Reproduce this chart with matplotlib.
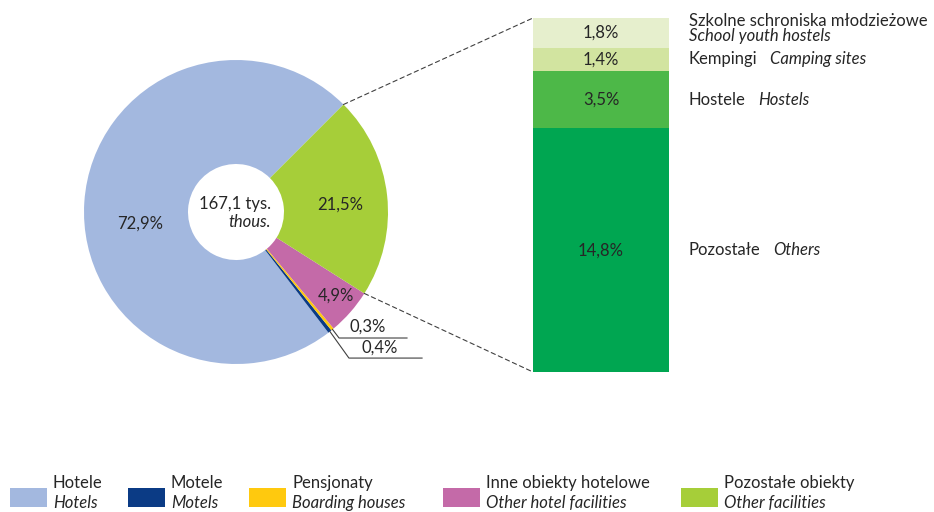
import numpy as np
import matplotlib.pyplot as plt
from matplotlib.patches import Rectangle, ConnectionPatch

plt.rcParams['font.family'] = ['Lato', 'DejaVu Sans']

W, H = 934, 512

## dane - struktura miejsc noclegowych
pie_pl   = ['Hotele', 'Motele', 'Pensjonaty', 'Inne obiekty hotelowe', 'Pozostałe obiekty']
pie_en   = ['Hotels', 'Motels', 'Boarding houses', 'Other hotel facilities', 'Other facilities']
pie_vals = [72.9, 0.4, 0.3, 4.9, 21.5]
pie_cols = ['#A3B8DF', '#0B3B85', '#FFC90E', '#C46AA8', '#A6CE39']

bar_pl   = ['Pozostałe', 'Hostele', 'Kempingi', 'Szkolne schroniska młodzieżowe']
bar_en   = ['Others', 'Hostels', 'Camping sites', 'School youth hostels']
bar_vals = [14.8, 3.5, 1.4, 1.8]
bar_cols = ['#00A651', '#4DB848', '#D2E4A0', '#E6EFCD']

total_txt = ('167,1 tys.', 'thous.')

txt_col = '#262626'
fs = 12

def fx(px):
    return px / W

def fy(py):
    return 1 - py / H

fig = plt.figure(figsize=(W / 100, H / 100), dpi=100)

## donut
cx, cy, R = 236, 212, 152
axp = fig.add_axes([fx(cx - R), fy(cy + R), 2 * R / W, 2 * R / H])
wedges, _ = axp.pie(pie_vals, colors=pie_cols, startangle=45, counterclock=True,
                    radius=1.0, wedgeprops=dict(width=104 / R, linewidth=0))
axp.set_xlim(-1, 1)
axp.set_ylim(-1, 1)
axp.set_aspect('equal')
axp.axis('off')

def fmt(v):
    return ('%.1f%%' % v).replace('.', ',')

# etykiety wewnatrz
axp.text(-0.632, -0.079, fmt(pie_vals[0]), ha='center', va='center', fontsize=fs, color=txt_col)
axp.text(0.684, 0.046, fmt(pie_vals[4]), ha='center', va='center', fontsize=fs, color=txt_col)
axp.text(0.658, -0.553, fmt(pie_vals[3]), ha='center', va='center', fontsize=fs, color=txt_col)

# srodek
axp.text(0.23, 0.053, total_txt[0], ha='right', va='center', fontsize=fs, color=txt_col)
axp.text(0.23, -0.066, total_txt[1], ha='right', va='center', fontsize=fs, color=txt_col, style='italic')

# male wycinki z liniami odniesienia
small = [(2, (0.678, -0.829), (1.125, -0.829), (0.868, -0.757)),
         (1, (0.743, -0.961), (1.224, -0.961), (0.947, -0.895))]
for idx, elbow, end, tpos in small:
    w = wedges[idx]
    ang = np.deg2rad((w.theta1 + w.theta2) / 2)
    x0, y0 = np.cos(ang), np.sin(ang)
    axp.plot([x0, elbow[0], end[0]], [y0, elbow[1], end[1]], color='#404040',
             linewidth=0.8, clip_on=False)
    axp.text(tpos[0], tpos[1], fmt(pie_vals[idx]), ha='center', va='center',
             fontsize=fs, color=txt_col)

## slupek
axb = fig.add_axes([fx(533), fy(372), 136 / W, 354 / H])
bottom = 0
for v, c in zip(bar_vals, bar_cols):
    axb.bar(0, v, width=1.0, bottom=bottom, color=c, linewidth=0)
    axb.text(0, bottom + v / 2, fmt(v), ha='center', va='center', fontsize=fs, color=txt_col)
    bottom += v
axb.set_xlim(-0.5, 0.5)
axb.set_ylim(0, sum(bar_vals))
axb.axis('off')

# opisy slupka
bottom = 0
for i, (v, pl, en) in enumerate(zip(bar_vals, bar_pl, bar_en)):
    ymid = bottom + v / 2
    bottom += v
    if i == len(bar_vals) - 1:
        axb.annotate(pl, xy=(0.5, ymid), xycoords='data', xytext=(20, 12),
                     textcoords='offset pixels', ha='left', va='center',
                     fontsize=fs, color=txt_col, annotation_clip=False)
        axb.annotate(en, xy=(0.5, ymid), xycoords='data', xytext=(20, -3),
                     textcoords='offset pixels', ha='left', va='center',
                     fontsize=fs, color=txt_col, style='italic', annotation_clip=False)
    else:
        t1 = axb.annotate(pl, xy=(0.5, ymid), xycoords='data', xytext=(20, 0),
                          textcoords='offset pixels', ha='left', va='center',
                          fontsize=fs, color=txt_col, annotation_clip=False)
        axb.annotate(en, xy=(1, 0.5), xycoords=t1, xytext=(12, 0),
                     textcoords='offset pixels', ha='left', va='center',
                     fontsize=fs, color=txt_col, style='italic', annotation_clip=False)

# linie laczace
a1 = np.deg2rad(wedges[4].theta2)
a2 = np.deg2rad(wedges[4].theta1)
for ang, yb in [(a1, sum(bar_vals)), (a2, 0)]:
    con = ConnectionPatch(xyA=(np.cos(ang), np.sin(ang)), coordsA=axp.transData,
                          xyB=(-0.5, yb), coordsB=axb.transData,
                          color='#404040', linewidth=0.8, linestyle=(0, (4, 3)))
    fig.add_artist(con)

## legenda
leg_x = [10, 128, 249, 443, 681]
for x, c, pl, en in zip(leg_x, pie_cols, pie_pl, pie_en):
    fig.add_artist(Rectangle((fx(x), fy(507)), 37 / W, 19 / H, transform=fig.transFigure,
                             facecolor=c, edgecolor='none'))
    fig.text(fx(x + 43), fy(483), pl, ha='left', va='center', fontsize=fs, color=txt_col)
    fig.text(fx(x + 43), fy(503), en, ha='left', va='center', fontsize=fs, color=txt_col,
             style='italic')

fig.savefig('out.png', dpi=100, facecolor='white')
